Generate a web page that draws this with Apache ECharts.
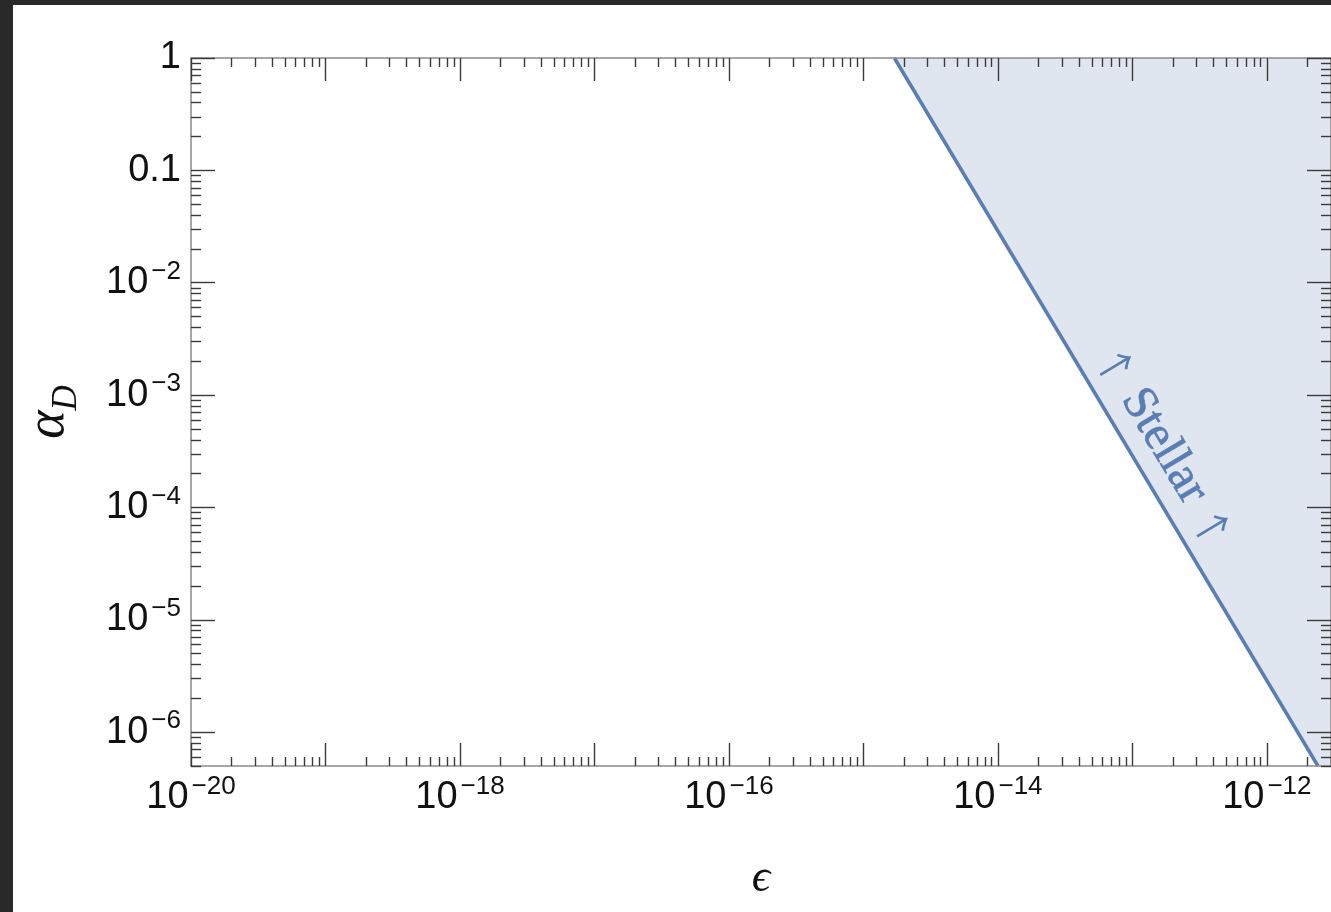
<!DOCTYPE html>
<html>
<head>
<meta charset="utf-8">
<script src="https://cdn.jsdelivr.net/npm/echarts@6/dist/echarts.min.js"></script>
<style>
  html, body { margin: 0; padding: 0; width: 1331px; height: 912px; overflow: hidden; background: #292929; }
  #chart { position: absolute; left: 13px; top: 5px; width: 1318px; height: 907px; background: #ffffff; }
</style>
</head>
<body>
<div id="chart"></div>
<script>
// Plot ranges (ε on x, α_D on y), both logarithmic
const xRange = [1e-20, 3e-12];
const yRange = [5e-7, 1];

// Decades that carry a tick label
const xLabelExponents = [-20, -18, -16, -14, -12];
const yLabelExponents = [-6, -5, -4, -3, -2, -1, 0];

// Stellar bound on α_D as a function of ε
const stellarEps = [1.7e-15, 2.4e-12];
const stellarAlpha = [1, 5e-7];

// Annotation along the bound
const stellarWord = 'Stellar';
const stellarArrow = '\u2191';
const stellarTextAt = [1.72e-13, 3.5e-4];

const LINE_COLOR = '#5a7db4';
const FILL_COLOR = '#dfe6f0';

const lg = Math.log10;
const xMin = lg(xRange[0]), xMax = lg(xRange[1]);
const yMin = lg(yRange[0]), yMax = lg(yRange[1]);

// Major ticks at every decade, minor ticks at 2..9 inside each decade
function majorTicks(lo, hi) {
  const out = [];
  for (let n = Math.ceil(lo - 1e-9); n <= hi + 1e-9; n++) out.push(n);
  return out;
}
function minorTicks(lo, hi) {
  const out = [];
  for (let n = Math.floor(lo) - 1; n <= Math.ceil(hi); n++) {
    for (let k = 2; k <= 9; k++) {
      const v = n + lg(k);
      if (v >= lo - 1e-9 && v <= hi + 1e-9) out.push(v);
    }
  }
  return out;
}

const AXIS_LINE = { show: true, onZero: false, lineStyle: { color: '#8a8a8a', width: 1.5 } };
const TICK_STYLE = { color: '#3a3a3a', width: 1.4 };

const labelRich = {
  b: { fontFamily: 'Liberation Sans, Arial, sans-serif', fontSize: 38, color: '#111', padding: [5, 0, 5, 0] },
  s: { fontFamily: 'Liberation Sans, Arial, sans-serif', fontSize: 26, color: '#111', verticalAlign: 'top', padding: [0, 0, 0, 3] }
};

function powerLabel(v) {
  const e = Math.round(v);
  if (e === 0) return '{b|1}';
  if (e === -1) return '{b|0.1}';
  return '{b|10}{s|\u2212' + Math.abs(e) + '}';
}
function xPowerLabel(v) {
  const e = Math.round(v);
  return '{b|10}{s|\u2212' + Math.abs(e) + '}';
}

function xAxisDef(position, ticks, len, withLine, withLabels) {
  return {
    type: 'value', gridIndex: 0, position: position, min: xMin, max: xMax, z: 10,
    axisLine: withLine ? AXIS_LINE : { show: false, onZero: false },
    axisTick: { show: true, inside: true, length: len, lineStyle: TICK_STYLE, customValues: ticks },
    axisLabel: withLabels ? {
      show: true, margin: 8, customValues: xLabelExponents, formatter: xPowerLabel, rich: labelRich
    } : { show: false },
    splitLine: { show: false }
  };
}
function yAxisDef(position, ticks, len, withLine, withLabels) {
  return {
    type: 'value', gridIndex: 0, position: position, min: yMin, max: yMax, z: 10,
    axisLine: withLine ? AXIS_LINE : { show: false, onZero: false },
    axisTick: { show: true, inside: true, length: len, lineStyle: TICK_STYLE, customValues: ticks },
    axisLabel: withLabels ? {
      show: true, margin: 10, customValues: yLabelExponents, formatter: powerLabel, rich: labelRich
    } : { show: false },
    splitLine: { show: false }
  };
}

const xMajor = majorTicks(xMin, xMax), xMinor = minorTicks(xMin, xMax);
const yMajor = majorTicks(yMin, yMax), yMinor = minorTicks(yMin, yMax);

const xAxes = [
  xAxisDef('bottom', xMajor, 23, true, true),
  xAxisDef('bottom', xMinor, 9, false, false),
  xAxisDef('top', xMajor, 23, true, false),
  xAxisDef('top', xMinor, 9, false, false)
];
Object.assign(xAxes[0], {
  name: '\u03f5', nameLocation: 'middle', nameGap: 90,
  nameTextStyle: { fontFamily: 'Liberation Serif, DejaVu Serif, serif', fontStyle: 'italic', fontSize: 46, color: '#111' }
});

const yAxes = [
  yAxisDef('left', yMajor, 24, true, true),
  yAxisDef('left', yMinor, 10, false, false),
  yAxisDef('right', yMajor, 24, true, false),
  yAxisDef('right', yMinor, 10, false, false)
];
Object.assign(yAxes[0], {
  name: '{a|\u03b1}{d|D}', nameLocation: 'middle', nameGap: 107,
  nameTextStyle: {
    rich: {
      a: { fontFamily: 'Liberation Serif, DejaVu Serif, serif', fontStyle: 'italic', fontSize: 54, color: '#111', verticalAlign: 'bottom', padding: [0, 0, 8, 0] },
      d: { fontFamily: 'Liberation Serif, DejaVu Serif, serif', fontStyle: 'italic', fontSize: 35, color: '#111', verticalAlign: 'bottom' }
    }
  }
});

const stellarPts = stellarEps.map((e, i) => [lg(e), lg(stellarAlpha[i])]);

const chart = echarts.init(document.getElementById('chart'), null, { renderer: 'canvas' });
chart.setOption({
  animation: false,
  backgroundColor: '#ffffff',
  grid: { left: 178, top: 53, width: 1146, height: 708, containLabel: false },
  xAxis: xAxes,
  yAxis: yAxes,
  series: [
    {
      // excluded region above/right of the stellar bound
      type: 'custom', name: 'Stellar region', xAxisIndex: 0, yAxisIndex: 0, z: 1, silent: true,
      data: [stellarPts[0]],
      clip: true,
      renderItem: function (params, api) {
        const cs = params.coordSys;
        const pts = stellarPts.map(p => api.coord(p));
        pts.push([cs.x + cs.width, cs.y + cs.height]);
        pts.push([cs.x + cs.width, cs.y]);
        return { type: 'polygon', shape: { points: pts }, style: { fill: FILL_COLOR } };
      }
    },
    {
      type: 'line', name: 'Stellar', xAxisIndex: 0, yAxisIndex: 0, z: 3,
      data: stellarPts, symbol: 'none', clip: false,
      lineStyle: { color: LINE_COLOR, width: 3.5 }
    },
    {
      type: 'custom', name: 'Stellar label', xAxisIndex: 0, yAxisIndex: 0, z: 4, silent: true,
      data: [[lg(stellarTextAt[0]), lg(stellarTextAt[1])]],
      renderItem: function (params, api) {
        const p = api.coord([api.value(0), api.value(1)]);
        const a = api.coord(stellarPts[0]);
        const b = api.coord(stellarPts[1]);
        const ang = Math.atan2(b[1] - a[1], b[0] - a[0]);
        return {
          type: 'text', x: p[0], y: p[1], rotation: -ang,
          style: {
            text: '{ar|' + stellarArrow + '} {w|' + stellarWord + '} {ar|' + stellarArrow + '}',
            align: 'center', verticalAlign: 'middle',
            rich: {
              w: { fontFamily: 'Liberation Serif, Times New Roman, serif', fontSize: 48, fill: LINE_COLOR,
                   stroke: LINE_COLOR, lineWidth: 0.7, verticalAlign: 'middle' },
              ar: { fontFamily: 'Noto Sans CJK SC, DejaVu Sans, sans-serif', fontSize: 39, fill: LINE_COLOR,
                    verticalAlign: 'middle' }
            },
            fill: LINE_COLOR, font: '48px "Liberation Serif", serif'
          }
        };
      }
    }
  ]
});
</script>
</body>
</html>
